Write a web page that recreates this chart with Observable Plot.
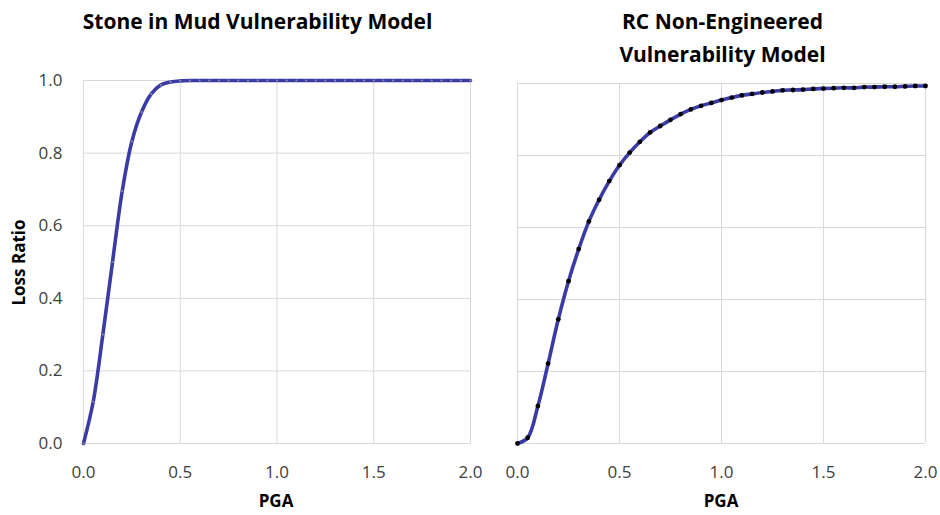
<!DOCTYPE html>
<html>
<head>
<meta charset="utf-8">
<script src="https://cdn.jsdelivr.net/npm/d3@7"></script>
<script src="https://cdn.jsdelivr.net/npm/@observablehq/plot@0.6"></script>
<style>
  html, body { margin: 0; padding: 0; background: #fff; }
  #wrap { position: relative; width: 940px; height: 515px; overflow: hidden; font-family: "Open Sans", "Noto Sans", sans-serif; }
  .abs { position: absolute; }
  .title { font-weight: bold; font-size: 21px; color: #000; text-align: center; line-height: 33px; }
  .alabel { font-weight: bold; font-size: 17px; color: #000; }
</style>
</head>
<body>
<div id="wrap">
  <div class="abs title" style="left:40px; top:5px; width:435px;">Stone in Mud Vulnerability Model</div>
  <div class="abs title" style="left:505px; top:5px; width:435px;">RC Non-Engineered<br>Vulnerability Model</div>
  <div class="abs alabel" style="left:-32px; top:251px; width:100px; text-align:center; transform: rotate(-90deg);">Loss Ratio</div>
  <div class="abs alabel" style="left:226px; top:489px; width:100px; text-align:center;">PGA</div>
  <div class="abs alabel" style="left:671px; top:489px; width:100px; text-align:center;">PGA</div>
  <div class="abs" id="left" style="left:0; top:0;"></div>
  <div class="abs" id="right" style="left:490px; top:0;"></div>
</div>
<script>
const pga = [0.00,0.05,0.10,0.15,0.20,0.25,0.30,0.35,0.40,0.45,0.50,0.55,0.60,0.65,0.70,0.75,0.80,0.85,0.90,0.95,1.00,
             1.05,1.10,1.15,1.20,1.25,1.30,1.35,1.40,1.45,1.50,1.55,1.60,1.65,1.70,1.75,1.80,1.85,1.90,1.95,2.00];
const stoneLoss = [0,0.115,0.30,0.50,0.695,0.832,0.913,0.963,0.988,0.996,0.999,1,1,1,1,1,1,1,1,1,1,
                   1,1,1,1,1,1,1,1,1,1,1,1,1,1,1,1,1,1,1,1];
const rcLoss = [0,0.016,0.104,0.222,0.345,0.451,0.540,0.617,0.677,0.729,0.773,0.808,0.838,0.864,0.882,0.899,0.915,0.928,0.938,0.946,0.954,
                0.961,0.967,0.971,0.975,0.978,0.981,0.982,0.983,0.985,0.986,0.987,0.988,0.988,0.990,0.990,0.991,0.991,0.992,0.993,0.993];
const xTicks = [0, 0.5, 1.0, 1.5, 2.0];
const yTicks = [0, 0.2, 0.4, 0.6, 0.8, 1.0];

const stoneData = pga.map((x, i) => ({x, y: stoneLoss[i]}));
const rcData = pga.map((x, i) => ({x, y: rcLoss[i]}));

const lineColor = "#3b3ba6";
const gridColor = "#d9d9d9";
const tickColor = "#404040";

function chart(data, opts) {
  return Plot.plot({
    width: opts.width, height: 515,
    marginLeft: opts.ml, marginRight: opts.mr, marginTop: opts.mt, marginBottom: 72,
    style: { fontFamily: '"Open Sans", "Noto Sans", sans-serif', fontSize: "17px", background: "transparent", overflow: "visible" },
    x: { domain: [0, 2], ticks: xTicks },
    y: { domain: [0, 1], ticks: yTicks },
    marks: [
      Plot.gridX(xTicks, { stroke: gridColor, strokeOpacity: 1, strokeWidth: 1 }),
      Plot.gridY(yTicks, { stroke: gridColor, strokeOpacity: 1, strokeWidth: 1 }),
      Plot.axisX(xTicks, { tickSize: 0, tickPadding: 22, tickFormat: d3.format(".1f"), fill: tickColor, fontSize: 17, label: null }),
      opts.yAxis
        ? Plot.axisY(yTicks, { tickSize: 0, tickPadding: 21, tickFormat: d3.format(".1f"), fill: tickColor, fontSize: 17, label: null })
        : Plot.axisY({ ticks: [], label: null }),
      Plot.line(data, { x: "x", y: "y", stroke: lineColor, strokeWidth: 3.6, curve: "catmull-rom" }),
      Plot.dot(data, { x: "x", y: "y", r: opts.dotR, fill: opts.dotFill, stroke: "none" })
    ]
  });
}

document.getElementById("left").appendChild(chart(stoneData, { width: 490, ml: 83, mr: 20, mt: 80, yAxis: true, dotR: 1.1, dotFill: "#8a8a9a" }));
document.getElementById("right").appendChild(chart(rcData, { width: 450, ml: 27, mr: 15, mt: 83, yAxis: false, dotR: 2.4, dotFill: "#000" }));
</script>
</body>
</html>
